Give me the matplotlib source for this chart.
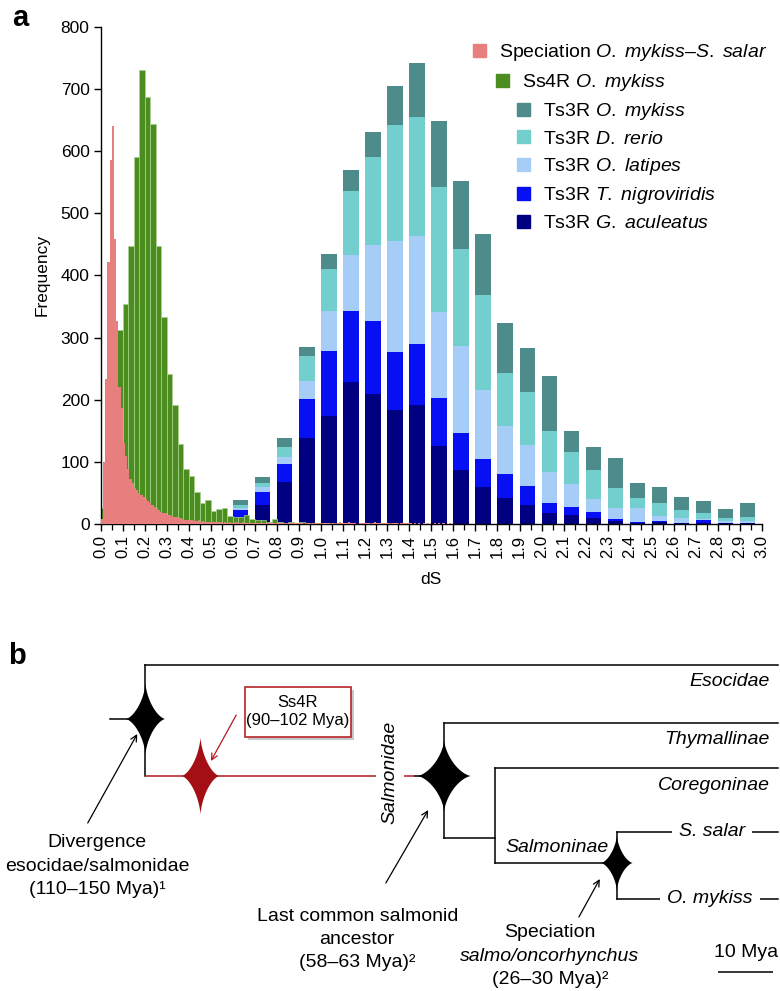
import numpy as np
import matplotlib
matplotlib.use('Agg')
import matplotlib.pyplot as plt
from matplotlib.patches import Patch, Polygon, Rectangle
from matplotlib.ticker import MultipleLocator

plt.rcParams['font.family'] = ['Liberation Sans', 'DejaVu Sans']
plt.rcParams['mathtext.fontset'] = 'custom'
plt.rcParams['mathtext.rm'] = 'Liberation Sans'
plt.rcParams['mathtext.it'] = 'Liberation Sans:italic'

# ---------------- data, panel a ----------------
# speciation O. mykiss - S. salar, bins of 0.01 starting at 0.0
pink_step = 0.01
pink_counts = [8, 100, 233, 422, 585, 641, 458, 326, 221, 187,
               131, 110, 88, 72, 66, 58, 54, 50, 47, 44,
               41, 37, 33, 30, 27, 25, 22, 20, 18, 17,
               15, 14, 13, 12, 11, 9, 9, 8, 7, 7,
               6, 6, 5, 5, 6, 4, 5, 4, 4, 3,
               4, 3, 3, 4, 3, 2, 3, 2, 3, 2,
               2, 3, 2, 2, 3, 2, 1, 2, 2, 1,
               2, 1, 2, 1, 1, 2, 1, 1, 2, 1,
               1, 2, 1, 1, 0, 1, 2, 1, 1, 0,
               1, 1, 0, 2, 1, 0, 1, 1, 0, 1,
               0, 1, 2, 1, 0, 1, 0, 1, 3, 1,
               2, 1, 3, 1, 2, 1, 0, 2, 1, 1,
               2, 1, 0, 1, 3, 1, 2, 0, 1, 1,
               1, 0, 2, 1, 1, 0, 1, 2, 1, 0,
               1, 0, 1, 0, 2, 0, 1, 0, 1, 0,
               0, 1, 0, 2, 0, 1, 0, 0, 1, 0]

# Ss4R O. mykiss, bins of 0.025 starting at 0.0
green_step = 0.025
green_counts = [25, 90, 190, 312, 354, 447, 591, 731, 687, 644,
                447, 333, 242, 191, 129, 89, 77, 52, 34, 38,
                21, 24, 26, 13, 11, 12, 15, 8, 6, 7,
                4, 8, 3, 2, 4, 2, 3, 1, 2, 1,
                2, 1, 1, 0, 1, 1, 0, 1, 2, 0,
                1, 0, 1, 1, 0, 1]

# Ts3R stacked bins
ts3r_bins = [0.6, 0.7, 0.8, 0.9, 1.0, 1.1, 1.2, 1.3, 1.4, 1.5, 1.6, 1.7,
             1.8, 1.9, 2.0, 2.1, 2.2, 2.3, 2.4, 2.5, 2.6, 2.7, 2.8, 2.9]
g_aculeatus = [10, 30, 68, 138, 173, 228, 209, 184, 192, 126, 87, 60,
               42, 30, 17, 15, 10, 5, 2, 3, 1, 2, 1, 1]
t_nigroviridis = [12, 21, 29, 63, 105, 114, 117, 93, 97, 77, 59, 44,
                  38, 31, 16, 13, 9, 3, 2, 2, 1, 4, 0, 0]
o_latipes = [3, 8, 10, 29, 64, 91, 123, 178, 174, 138, 141, 111,
             77, 66, 50, 37, 21, 17, 22, 8, 7, 2, 4, 4]
d_rerio = [5, 7, 17, 40, 68, 103, 141, 187, 191, 201, 156, 153,
           86, 86, 67, 51, 47, 33, 16, 20, 14, 10, 4, 7]
o_mykiss = [8, 10, 15, 15, 25, 33, 40, 63, 88, 107, 108, 99,
            81, 70, 88, 33, 37, 48, 24, 27, 21, 19, 15, 21]

c_pink = '#e77f7e'
c_green = '#4b8d1e'
stack_series = [
    (g_aculeatus, '#000080', r'Ts3R $\mathit{G.\ aculeatus}$'),
    (t_nigroviridis, '#0610f2', r'Ts3R $\mathit{T.\ nigroviridis}$'),
    (o_latipes, '#a6cdf8', r'Ts3R $\mathit{O.\ latipes}$'),
    (d_rerio, '#72cfcd', r'Ts3R $\mathit{D.\ rerio}$'),
    (o_mykiss, '#4e8c8c', r'Ts3R $\mathit{O.\ mykiss}$'),
]

# ---------------- figure ----------------
W, H = 780, 991
fig = plt.figure(figsize=(W / 100, H / 100), dpi=100)

ax = fig.add_axes([100.7 / W, 1 - 524 / H, (762 - 100.7) / W, (524 - 26.7) / H])

bottom = np.zeros(len(ts3r_bins))
for vals, col, lab in stack_series:
    ax.bar(ts3r_bins, vals, width=0.07, bottom=bottom, align='edge',
           color=col, linewidth=0, zorder=1)
    bottom += np.array(vals)

green_x = np.arange(len(green_counts)) * green_step
ax.bar(green_x, green_counts, width=green_step, align='edge', color=c_green,
       edgecolor='#a9d28f', linewidth=0.5, zorder=2)

pink_x = np.arange(len(pink_counts)) * pink_step
ax.bar(pink_x, pink_counts, width=pink_step, align='edge', color=c_pink,
       linewidth=0, zorder=3)

ax.set_xlim(0, 3.0)
ax.set_ylim(0, 800)
for s in ['top', 'right']:
    ax.spines[s].set_visible(False)
for s in ['left', 'bottom']:
    ax.spines[s].set_linewidth(1.0)
ax.yaxis.set_major_locator(MultipleLocator(100))
xt = np.round(np.arange(0, 3.01, 0.1), 1)
ax.set_xticks(xt)
ax.set_xticklabels(['%.1f' % v for v in xt], rotation=90, fontsize=12)
ax.xaxis.set_minor_locator(MultipleLocator(0.05))
ax.tick_params(axis='y', labelsize=12.5, length=5, width=1.0, pad=3)
ax.tick_params(axis='x', which='major', length=5, width=1.0, pad=3)
ax.tick_params(axis='x', which='minor', length=4, width=0.9)
ax.set_ylabel('Frequency', fontsize=12.5, labelpad=8)
ax.set_xlabel('dS', fontsize=12.5, labelpad=10)

# staggered legends
leg_kw = dict(loc='upper left', frameon=False, fontsize=14, borderpad=0,
              borderaxespad=0, handlelength=0.66, handleheight=0.66,
              handletextpad=0.7, labelspacing=0.43,
              bbox_transform=fig.transFigure)
l1 = ax.legend([Patch(color=c_pink)],
               [r'Speciation $\mathit{O.\ mykiss}$–$\mathit{S.\ salar}$'],
               bbox_to_anchor=(473 / W, 1 - 42 / H), **leg_kw)
ax.add_artist(l1)
l2 = ax.legend([Patch(color=c_green)], [r'Ss4R $\mathit{O.\ mykiss}$'],
               bbox_to_anchor=(496 / W, 1 - 72 / H), **leg_kw)
ax.add_artist(l2)
ax.legend([Patch(color=c) for _, c, _ in stack_series[::-1]],
          [l for _, _, l in stack_series[::-1]],
          bbox_to_anchor=(517 / W, 1 - 101 / H), **leg_kw)

fig.text(12 / W, 1 - 18 / H, 'a', fontsize=21, fontweight='bold', va='center')
fig.text(8 / W, 1 - 656 / H, 'b', fontsize=21, fontweight='bold', va='center')

# ---------------- panel b: tree (x in Mya, y in rows) ----------------
age_root = 121.5
age_div = 115.0
age_ss4r = 105.0
age_red_end = 66.0
age_salm = 60.7
age_cor = 51.5
age_spec = 29.3

y_eso, y_div, y_salm = 665, 719, 776
y_thy, y_low = 723, 838
y_cor, y_mid = 768, 863
y_ssal, y_omyk = 832, 899

axb = fig.add_axes([0, 0, 1, 371 / H])
axb.set_xlim(141.45, -0.36)
axb.set_ylim(991, 620)
axb.axis('off')

lk = dict(color='black', lw=1.1, capstyle='projecting')
axb.hlines(y_div, age_root, age_div, **lk)
axb.vlines(age_div, y_eso, y_salm, **lk)
axb.hlines(y_eso, age_div, 0, **lk)
axb.hlines(y_salm, age_div, age_red_end, color='#b3191f', lw=1.1)
axb.hlines(y_salm, age_red_end, age_salm, **lk)
axb.vlines(age_salm, y_thy, y_low, **lk)
axb.hlines(y_thy, age_salm, 0, **lk)
axb.hlines(y_low, age_salm, age_cor, **lk)
axb.vlines(age_cor, y_cor, y_mid, **lk)
axb.hlines(y_cor, age_cor, 0, **lk)
axb.hlines(y_mid, age_cor, age_spec, **lk)
axb.vlines(age_spec, y_ssal, y_omyk, **lk)
axb.hlines(y_ssal, age_spec, 0, **lk)
axb.hlines(y_omyk, age_spec, 0, **lk)


def star(cx, cy, hw, hh, color):
    t = np.linspace(0, 2 * np.pi, 200)
    c, s = np.cos(t), np.sin(t)
    xs = cx + hw * np.sign(c) * np.abs(c) ** 3
    ys = cy + hh * np.sign(s) * np.abs(s) ** 3
    axb.add_patch(Polygon(np.column_stack([xs, ys]), closed=True,
                          facecolor=color, edgecolor='none', zorder=5))


star(age_div, y_div, 3.6, 36, 'black')
star(age_ss4r, y_salm, 3.45, 39, '#a30f14')
star(age_salm, y_salm, 4.9, 36, 'black')
star(age_spec, y_mid, 2.9, 28, 'black')

it = dict(fontsize=14, style='italic', va='center')
axb.text(1.45, 682, 'Esocidae', ha='right', **it)
axb.text(1.45, 740, 'Thymallinae', ha='right', **it)
axb.text(1.45, 786, 'Coregoninae', ha='right', **it)
axb.text(40.2, 848, 'Salmoninae', ha='center', **it)
wb = dict(facecolor='white', edgecolor='none', pad=5)
axb.text(12.0, y_ssal, 'S. salar', ha='center', bbox=wb, zorder=6, **it)
axb.text(12.4, y_omyk, 'O. mykiss', ha='center', bbox=wb, zorder=6, **it)
axb.text(70.5, 772, 'Salmonidae', ha='center', rotation=90, zorder=6,
         bbox=dict(facecolor='white', edgecolor='none', pad=4), **it)

# scale bar
axb.hlines(972, 10.9, 0.9, color='black', lw=1.1)
axb.text(5.9, 953, '10 Mya', ha='center', va='center', fontsize=14)

# Ss4R box
axb.add_patch(Rectangle((96.3, 690), -19.3, 50, facecolor='#c8c8c8',
                        edgecolor='none', zorder=3))
axb.add_patch(Rectangle((96.9, 687), -19.3, 50, facecolor='white',
                        edgecolor='#b5252b', lw=1.2, zorder=4))
axb.text(87.3, 712, 'Ss4R\n(90–102 Mya)', ha='center', va='center',
         fontsize=12, linespacing=1.25, zorder=5)

ak = dict(arrowstyle='->', lw=0.9, color='black', shrinkA=0, shrinkB=0,
          mutation_scale=11)
axb.annotate('', xy=(103.1, 761), xytext=(98.5, 715),
             arrowprops=dict(ak, color='#b3191f'))
axb.annotate('', xy=(116.5, 734), xytext=(125.5, 823), arrowprops=ak)
axb.annotate('', xy=(63.6, 810), xytext=(71.3, 883), arrowprops=ak)
axb.annotate('', xy=(32.4, 879), xytext=(36.2, 917), arrowprops=ak)

tk = dict(fontsize=14, ha='center', va='center')
axb.text(123.8, 843, 'Divergence', **tk)
axb.text(123.8, 867, 'esocidae/salmonidae', **tk)
axb.text(123.8, 890, '(110–150 Mya)¹', **tk)
axb.text(76.5, 917, 'Last common salmonid', **tk)
axb.text(76.5, 940, 'ancestor', **tk)
axb.text(76.5, 963, '(58–63 Mya)²', **tk)
axb.text(41.5, 933, 'Speciation', **tk)
axb.text(41.5, 957, 'salmo/oncorhynchus', style='italic', **tk)
axb.text(41.5, 980, '(26–30 Mya)²', **tk)

fig.savefig('out.png', dpi=100)
